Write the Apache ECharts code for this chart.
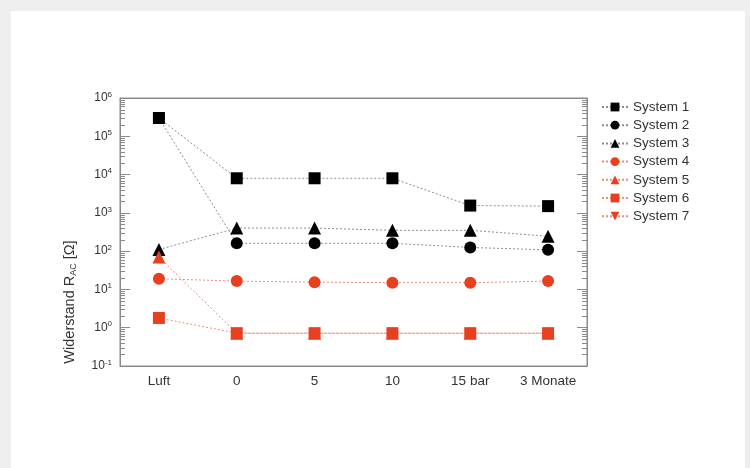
<!DOCTYPE html>
<html><head><meta charset="utf-8">
<script src="https://cdn.jsdelivr.net/npm/echarts@6/dist/echarts.min.js"></script>
<style>html,body{margin:0;padding:0;background:#efefef;}#wrap{position:absolute;left:11px;top:11px;width:734px;height:470px;background:#fff;}#c{position:absolute;left:0;top:0;width:750px;height:468px;}</style>
</head><body><div id="wrap"></div><div id="c"></div>
<script>
const categories = ['Luft', '0', '5', '10', '15 bar', '3 Monate'];
const system1 = [300000, 8000, 8000, 8000, 1550, 1500];
const system2 = [300000, 160, 160, 160, 125, 108];
const system3 = [110, 400, 400, 350, 350, 245];
const system4 = [19, 16.5, 15.5, 15, 15, 16.5];
const system5 = [70, 0.72, 0.72, 0.72, 0.72, 0.72];
const system6 = [1.8, 0.72, 0.72, 0.72, 0.72, 0.72];
const system7 = [null, null, null, null, null, null];

const BLACK = '#000000', RED = '#e8401f';
const GRAYLINE = '#8c8c8c', REDLINE = '#f08a75';
const minorVals = [];
for (let k = -1; k < 6; k++) for (let m = 2; m <= 9; m++) minorVals.push(m * Math.pow(10, k));

function mk(name, data, symbol, color, lineColor, size, extra) {
  return Object.assign({
    name, type: 'line', data, symbol, symbolSize: size,
    itemStyle: { color }, lineStyle: { color: lineColor, width: 1, type: [2, 2] },
    connectNulls: false, z: 3, emphasis: { disabled: true }
  }, extra || {});
}

const chart = echarts.init(document.getElementById('c'), null, { renderer: 'canvas' });
const axisGray = '#8a8a8a';
chart.setOption({
  animation: false,
  textStyle: { fontFamily: 'Liberation Sans, Arial, sans-serif' },
  grid: { left: 120, top: 98, right: 163, bottom: 102, show: true, borderColor: axisGray, borderWidth: 1,
    backgroundColor: 'transparent', outerBoundsMode: 'none', containLabel: false },
  legend: {
    orient: 'vertical', left: 596, top: 95, itemWidth: 26, itemHeight: 11, itemGap: 4.2,
    textStyle: { color: '#333', fontSize: 13.5, fontFamily: 'Liberation Sans, Arial, sans-serif' },
    data: ['System 1', 'System 2', 'System 3', 'System 4', 'System 5', 'System 6', 'System 7']
  },
  xAxis: [
    { type: 'category', data: categories, boundaryGap: true,
      axisLine: { lineStyle: { color: axisGray } },
      axisTick: { inside: true, length: 10, alignWithLabel: true, lineStyle: { color: axisGray } },
      axisLabel: { color: '#333', fontSize: 13.5, margin: 8 }, splitLine: { show: false } },
    { type: 'category', data: categories, position: 'top', boundaryGap: true,
      axisLine: { lineStyle: { color: axisGray } },
      axisTick: { inside: true, length: 10, alignWithLabel: true, lineStyle: { color: axisGray } },
      axisLabel: { show: false }, splitLine: { show: false } },
    { type: 'value', min: 0, max: 1, show: false }
  ],
  yAxis: [
    { type: 'log', min: 0.1, max: 1e6, logBase: 10,
      name: 'Widerstand R{sub|AC} [Ω]', nameLocation: 'middle', nameRotate: 90, nameGap: 42,
      nameTextStyle: { color: '#333', fontSize: 14.5, padding: [0, 140, 0, 0],
        rich: { sub: { fontSize: 9, padding: [8, 0, 0, 0], color: '#333' } } },
      axisLine: { show: true, lineStyle: { color: axisGray } },
      axisTick: { inside: true, length: 10, lineStyle: { color: axisGray } },
      axisLabel: { color: '#333', fontSize: 12, margin: 8,
        formatter: v => { const e = Math.round(Math.log10(v)); return '10{sup|' + e + '}'; },
        rich: { sup: { fontSize: 8, verticalAlign: 'top', padding: [0, 0, 7, 0], color: '#333' } } },
      splitLine: { show: false } },
    { type: 'log', min: 0.1, max: 1e6, logBase: 10, position: 'right',
      axisLine: { show: true, lineStyle: { color: axisGray } },
      axisTick: { inside: true, length: 10, lineStyle: { color: axisGray } },
      axisLabel: { show: false }, splitLine: { show: false } }
  ],
  series: [
    { type: 'custom', xAxisIndex: 2, yAxisIndex: 0, silent: true, z: 1,
      data: minorVals,
      renderItem: (params, api) => {
        const v = api.value(0);
        const l = api.coord([0, v]), r = api.coord([1, v]);
        const st = { stroke: axisGray, lineWidth: 1 };
        return { type: 'group', children: [
          { type: 'line', shape: { x1: l[0], y1: Math.round(l[1]) + 0.5, x2: l[0] + 5, y2: Math.round(l[1]) + 0.5 }, style: st },
          { type: 'line', shape: { x1: r[0], y1: Math.round(r[1]) + 0.5, x2: r[0] - 5, y2: Math.round(r[1]) + 0.5 }, style: st }
        ] };
      },
      encode: { y: 0 } },
    mk('System 2', system2, 'circle', BLACK, GRAYLINE, 12),
    mk('System 1', system1, 'rect', BLACK, GRAYLINE, 12),
    mk('System 3', system3, 'triangle', BLACK, GRAYLINE, 13),
    mk('System 4', system4, 'circle', RED, REDLINE, 12),
    mk('System 5', system5, 'triangle', RED, REDLINE, 13),
    mk('System 6', system6, 'rect', RED, REDLINE, 12),
    mk('System 7', system7, 'path://M0,0 L10,0 L5,9 Z', RED, REDLINE, 13)
  ]
});
</script>
</body></html>
